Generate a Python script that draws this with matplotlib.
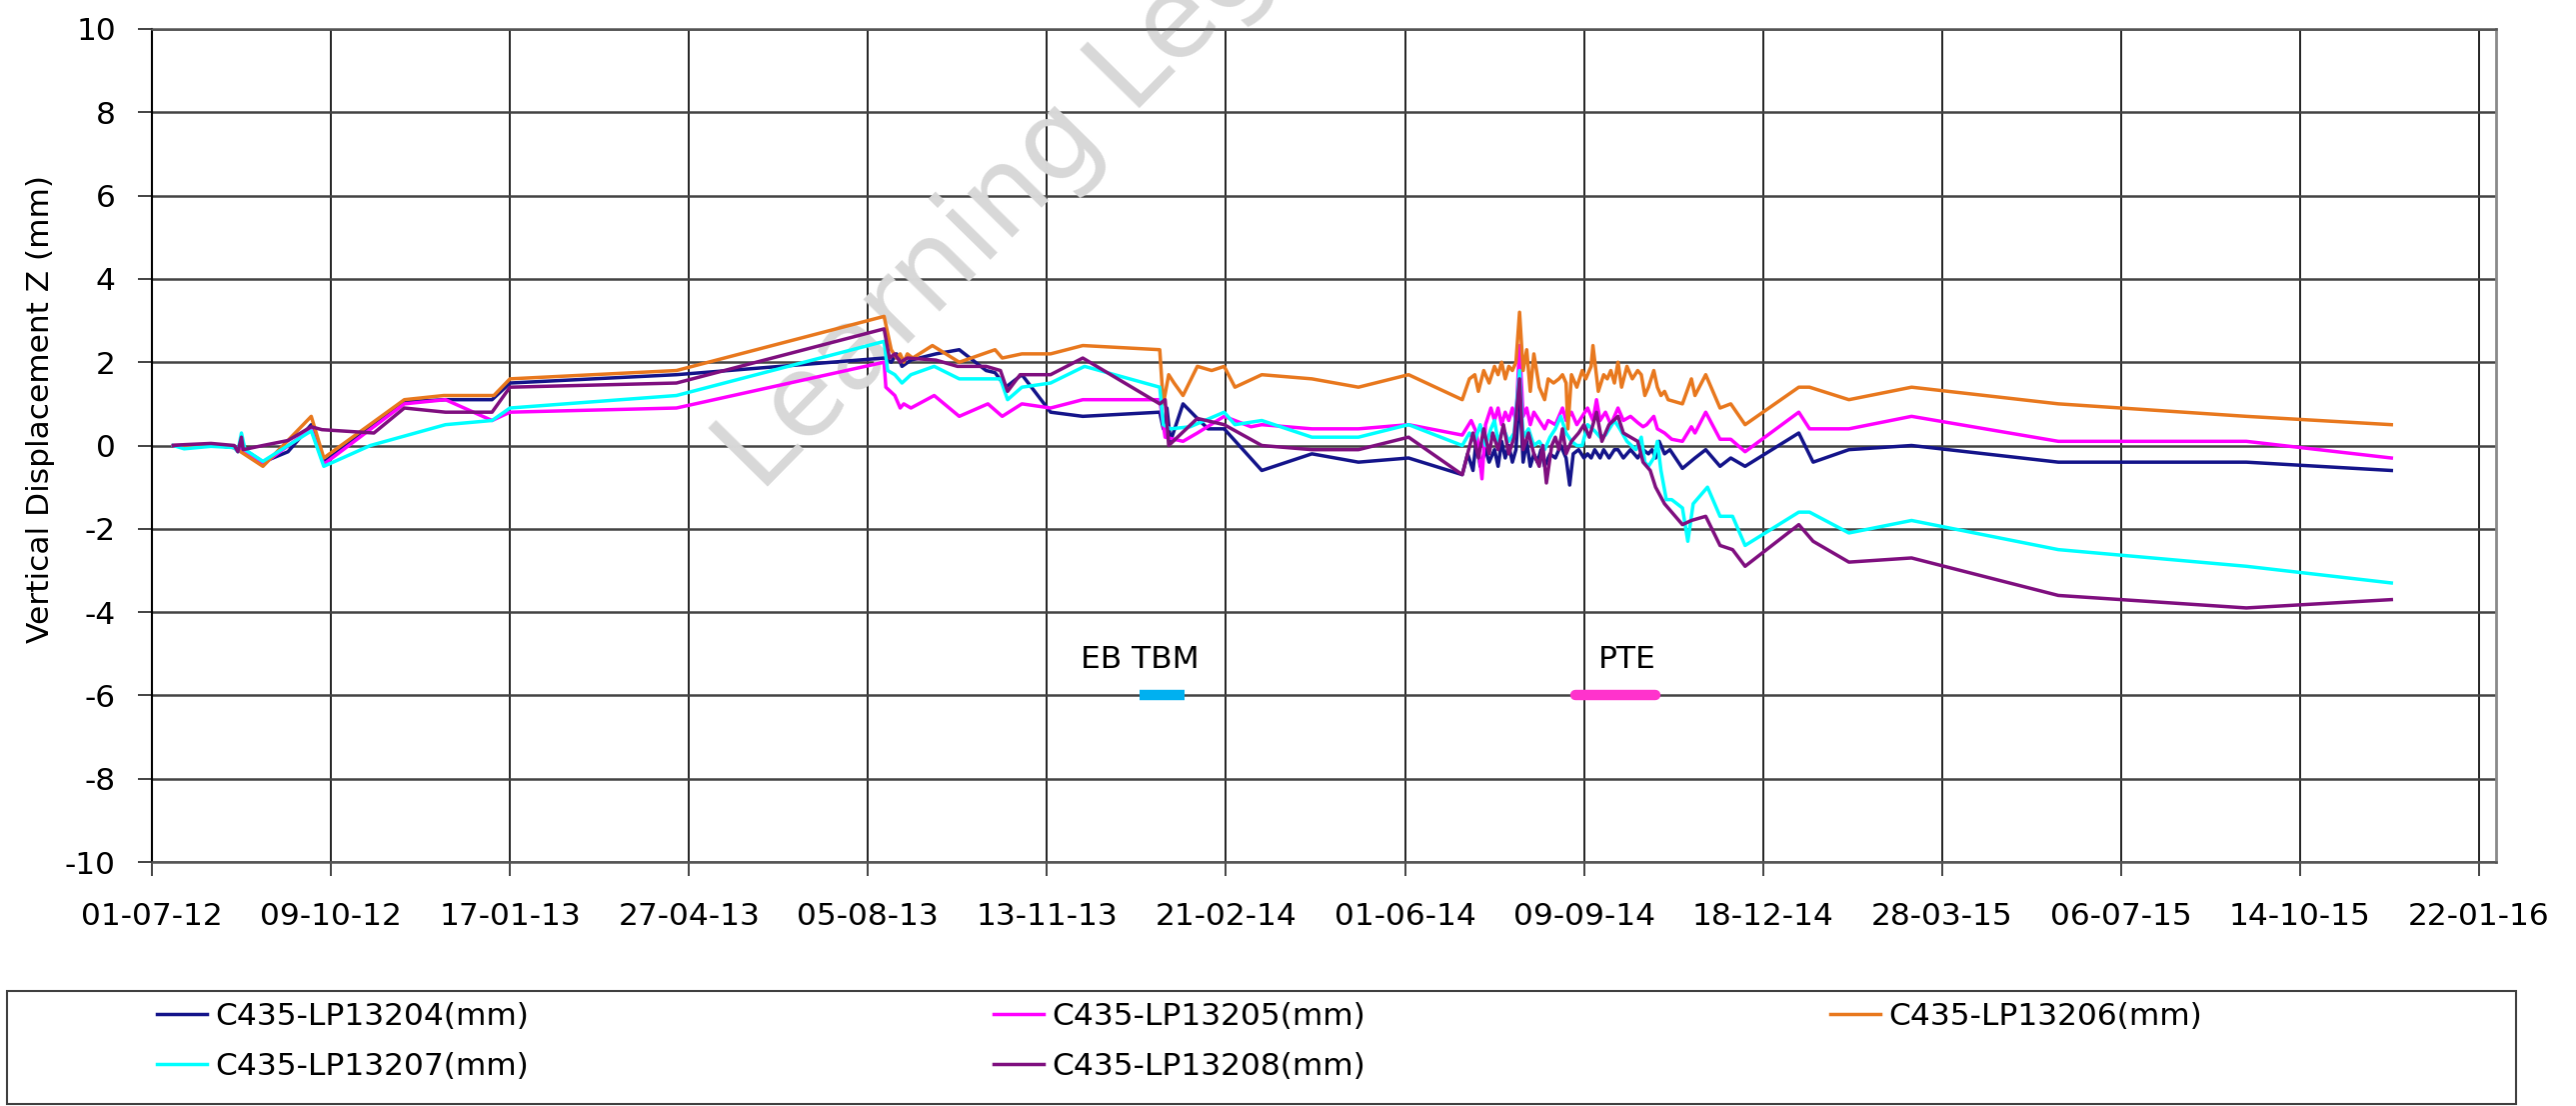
import numpy as np
import matplotlib
matplotlib.use('Agg')
import matplotlib.pyplot as plt
import matplotlib.dates as mdates
from matplotlib.patches import Rectangle

plt.rcParams['axes.unicode_minus'] = False

# survey start, all days below are counted from here
startDate = np.datetime64('2012-07-01')

lp204_days = [12, 18, 33, 46, 48, 50, 51, 62, 76, 89, 96, 141, 164, 190, 200, 293, 409, 413, 416, 419,
              424, 438, 451, 466, 471, 477, 486, 502, 520, 563, 565, 567, 569, 576, 584, 590, 599, 620, 648, 674,
              702, 732, 735, 738, 740, 742, 745, 747, 750, 752, 754, 756, 758, 760, 762, 764, 766, 768, 770, 772,
              774, 776, 778, 781, 784, 787, 790, 792, 794, 797, 800, 802, 804, 806, 809, 811, 814, 817, 819, 822,
              826, 830, 833, 836, 838, 840, 842, 845, 848, 855, 862, 868, 876, 882, 890, 920, 928, 948, 983, 1065,
              1170, 1251]
lp204_mm = [0.0, 0.0, 0.02, -0.05, -0.12, 0.15, -0.08, -0.4, -0.15, 0.5, -0.4, 1.05, 1.1, 1.1, 1.5, 1.7, 2.1, 2.0, 2.2, 1.9,
            2.05, 2.2, 2.3, 1.8, 1.75, 1.4, 1.7, 0.8, 0.7, 0.8, 0.4, 0.9, 0.1, 1.0, 0.65, 0.4, 0.4, -0.6, -0.2, -0.4,
            -0.3, -0.7, -0.2, -0.6, 0.2, -0.5, -0.1, -0.4, -0.1, -0.5, 0.1, -0.3, 0.0, -0.4, -0.1, 1.3, -0.4, 0.1, -0.5, -0.2,
            -0.4, -0.1, -0.5, -0.2, -0.3, 0.0, -0.3, -0.95, -0.2, -0.1, -0.3, -0.2, -0.3, -0.1, -0.3, -0.1, -0.3, -0.1, -0.1, -0.3,
            -0.1, -0.3, -0.1, -0.2, -0.1, -0.3, 0.1, -0.2, -0.1, -0.55, -0.3, -0.1, -0.5, -0.3, -0.5, 0.3, -0.4, -0.1, 0.0, -0.4,
            -0.4, -0.6]

lp205_days = [12, 33, 46, 51, 62, 89, 96, 141, 164, 190, 200, 293, 409, 410, 415, 418, 420, 424, 437, 451,
              467, 475, 486, 502, 520, 563, 566, 576, 584, 599, 614, 620, 648, 674, 702, 732, 737, 740, 743, 745,
              748, 750, 752, 754, 756, 758, 760, 762, 764, 766, 768, 770, 772, 775, 778, 780, 784, 788, 790, 793,
              796, 799, 802, 805, 807, 809, 812, 815, 819, 822, 826, 830, 833, 835, 839, 841, 845, 849, 855, 860,
              862, 868, 876, 882, 890, 920, 926, 948, 983, 1065, 1170, 1251]
lp205_mm = [0.0, 0.02, -0.05, -0.1, -0.45, 0.4, -0.45, 1.0, 1.1, 0.6, 0.8, 0.9, 2.0, 1.4, 1.2, 0.9, 1.0, 0.9, 1.2, 0.7,
            1.0, 0.7, 1.0, 0.9, 1.1, 1.1, 0.2, 0.1, 0.3, 0.7, 0.45, 0.5, 0.4, 0.4, 0.5, 0.25, 0.6, 0.3, -0.8, 0.5,
            0.9, 0.6, 0.9, 0.5, 0.8, 0.6, 0.9, 0.6, 2.4, 0.7, 0.9, 0.5, 0.8, 0.6, 0.4, 0.6, 0.5, 0.9, 0.6, 0.8,
            0.5, 0.7, 0.9, 0.6, 1.1, 0.6, 0.8, 0.5, 0.9, 0.6, 0.7, 0.55, 0.45, 0.5, 0.7, 0.4, 0.3, 0.15, 0.1, 0.45,
            0.3, 0.8, 0.15, 0.15, -0.15, 0.8, 0.4, 0.4, 0.7, 0.1, 0.1, -0.3]

lp206_days = [12, 18, 33, 46, 62, 89, 96, 141, 163, 191, 200, 293, 409, 413, 416, 418, 420, 422, 425, 436,
              451, 471, 475, 486, 502, 520, 563, 565, 568, 571, 576, 584, 592, 599, 605, 620, 648, 674, 702, 732,
              736, 739, 741, 744, 747, 750, 752, 754, 756, 758, 760, 762, 764, 766, 768, 770, 772, 775, 778, 780,
              783, 786, 788, 790, 791, 793, 796, 799, 801, 804, 805, 808, 811, 813, 815, 817, 819, 821, 824, 827,
              830, 832, 834, 836, 839, 841, 843, 845, 847, 855, 860, 862, 868, 876, 882, 890, 920, 926, 948, 983,
              1065, 1170, 1251]
lp206_mm = [0.0, 0.0, 0.02, -0.05, -0.5, 0.7, -0.3, 1.1, 1.2, 1.2, 1.6, 1.8, 3.1, 2.3, 2.1, 2.2, 2.0, 2.2, 2.1, 2.4,
            2.0, 2.3, 2.1, 2.2, 2.2, 2.4, 2.3, 1.0, 1.7, 1.5, 1.2, 1.9, 1.8, 1.9, 1.4, 1.7, 1.6, 1.4, 1.7, 1.1,
            1.6, 1.7, 1.3, 1.8, 1.5, 1.9, 1.7, 2.0, 1.6, 1.9, 1.8, 2.0, 3.2, 1.8, 2.3, 1.3, 2.2, 1.4, 1.1, 1.6,
            1.5, 1.6, 1.7, 1.5, 0.4, 1.7, 1.4, 1.8, 1.6, 1.9, 2.4, 1.3, 1.7, 1.6, 1.8, 1.5, 2.0, 1.4, 1.9, 1.6,
            1.8, 1.7, 1.2, 1.4, 1.8, 1.4, 1.2, 1.3, 1.1, 1.0, 1.6, 1.2, 1.7, 0.9, 1.0, 0.5, 1.4, 1.4, 1.1, 1.4,
            1.0, 0.7, 0.5]

lp207_days = [12, 18, 33, 46, 48, 50, 52, 62, 89, 96, 122, 164, 190, 200, 293, 409, 411, 415, 419, 424,
              437, 451, 474, 478, 486, 502, 521, 563, 565, 569, 580, 599, 605, 620, 648, 674, 702, 732, 736, 739,
              742, 745, 748, 750, 752, 755, 758, 761, 764, 766, 769, 772, 775, 778, 781, 784, 787, 790, 793, 796,
              799, 802, 806, 809, 812, 817, 820, 824, 829, 832, 834, 836, 839, 841, 843, 846, 849, 855, 858, 861,
              869, 876, 883, 890, 920, 926, 948, 983, 1065, 1170, 1251]
lp207_mm = [0.0, -0.08, -0.02, -0.05, -0.15, 0.3, -0.1, -0.38, 0.35, -0.5, 0.0, 0.5, 0.6, 0.9, 1.2, 2.5, 1.8, 1.7, 1.5, 1.7,
            1.9, 1.6, 1.6, 1.1, 1.4, 1.5, 1.9, 1.4, 0.5, 0.4, 0.45, 0.8, 0.5, 0.6, 0.2, 0.2, 0.5, 0.0, 0.3, 0.1,
            0.5, 0.0, 0.4, 0.6, 0.1, 0.4, 0.1, 0.3, 1.8, 0.2, 0.4, 0.0, 0.1, -0.1, 0.2, 0.4, 0.7, 0.3, 0.1, 0.0,
            0.0, 0.5, 0.35, 0.2, 0.25, 0.6, 0.4, 0.1, -0.1, 0.2, -0.4, -0.5, -0.3, 0.1, -0.6, -1.3, -1.3, -1.5, -2.3, -1.4,
            -1.0, -1.7, -1.7, -2.4, -1.6, -1.6, -2.1, -1.8, -2.5, -2.9, -3.3]

lp208_days = [12, 18, 33, 46, 48, 50, 51, 62, 76, 89, 95, 124, 141, 164, 190, 200, 293, 409, 412, 415,
              418, 422, 438, 450, 466, 474, 478, 485, 502, 520, 563, 566, 568, 584, 599, 620, 648, 674, 702, 732,
              735, 738, 741, 744, 747, 749, 752, 755, 758, 761, 764, 766, 769, 772, 775, 777, 779, 782, 784, 786,
              788, 790, 793, 797, 800, 803, 807, 810, 814, 819, 822, 826, 830, 833, 837, 840, 845, 849, 855, 860,
              868, 876, 883, 890, 920, 928, 948, 983, 1065, 1170, 1251]
lp208_mm = [0.0, 0.02, 0.05, 0.0, -0.15, 0.2, -0.1, 0.0, 0.12, 0.45, 0.38, 0.3, 0.9, 0.8, 0.8, 1.4, 1.5, 2.8, 2.1, 2.2,
            2.0, 2.1, 2.05, 1.9, 1.9, 1.8, 1.3, 1.7, 1.7, 2.1, 1.0, 1.1, 0.0, 0.65, 0.5, 0.0, -0.1, -0.1, 0.2, -0.7,
            -0.2, 0.3, -0.3, 0.4, -0.2, 0.3, -0.1, 0.5, -0.2, 0.2, 1.6, -0.1, 0.3, -0.2, -0.5, 0.0, -0.9, 0.0, 0.2, -0.1,
            0.4, -0.2, 0.1, 0.3, 0.5, 0.2, 0.8, 0.1, 0.5, 0.7, 0.3, 0.2, 0.1, -0.4, -0.6, -1.0, -1.4, -1.6, -1.9, -1.8,
            -1.7, -2.4, -2.5, -2.9, -1.9, -2.3, -2.8, -2.7, -3.6, -3.9, -3.7]

seriesNames = ['C435-LP13204(mm)', 'C435-LP13205(mm)', 'C435-LP13206(mm)', 'C435-LP13207(mm)', 'C435-LP13208(mm)']
seriesColors = ['#14148a', '#ff00ff', '#e8781e', '#00ffff', '#7f0f7f']

# construction activity markers (start day, end day) at -6 mm
eventNames = ['EB TBM', 'PTE']
eventDays = [(552, 577), (795, 840)]
eventColors = ['#00b0f0', '#ff33cc']

tickDays = np.arange(0, 1301, 100)


def toDates(days):
    return startDate + np.array(days).astype('timedelta64[D]')


fontSize = 22.5
lineWidth = 2.5

fig = plt.figure(figsize=(25.77, 11.06), dpi=100)
ax = fig.add_axes([0.05898, 0.22061, 0.90998, 0.75317])

allDays = [lp204_days, lp205_days, lp206_days, lp207_days, lp208_days]
allValues = [lp204_mm, lp205_mm, lp206_mm, lp207_mm, lp208_mm]
lines = []
for days, values, name, color in zip(allDays, allValues, seriesNames, seriesColors):
    l, = ax.plot(toDates(days), values, color=color, linewidth=lineWidth, label=name, zorder=3)
    lines.append(l)

for name, (d0, d1), color in zip(eventNames, eventDays, eventColors):
    ax.plot(toDates([d0, d1]), [-6, -6], color=color, linewidth=7.5,
            solid_capstyle='round' if name == 'PTE' else 'butt', zorder=4)
    mid = d0 if name == 'EB TBM' else (d0 + d1) / 2 + 7
    ax.text(toDates([mid])[0], -5.13, name, fontsize=fontSize, ha='center', va='center', zorder=4)

# watermark
ax.text(0.2953, 0.5533, 'Learning Legacy', transform=fig.transFigure, fontsize=82,
        color='#d8d8d8', rotation=45.5, rotation_mode='anchor', ha='left', va='baseline',
        clip_on=False, zorder=1.8)

x0 = mdates.date2num(startDate)
ax.set_xlim(x0, x0 + 1309.5)
ax.set_ylim(-10, 10)
ax.set_xticks(mdates.date2num(toDates(tickDays)))
ax.xaxis.set_major_formatter(mdates.DateFormatter('%d-%m-%y'))
ax.set_yticks(np.arange(-10, 11, 2))

ax.grid(axis='y', color='#444444', linewidth=1.8)
ax.grid(axis='x', color='#111111', linewidth=1.3)
ax.tick_params(axis='both', labelsize=fontSize, length=10, width=1.2, color='#222222')
ax.tick_params(axis='y', pad=16)
ax.tick_params(axis='x', pad=19)

ax.spines['left'].set_color('black')
ax.spines['left'].set_linewidth(1.5)
ax.spines['bottom'].set_color('#555555')
ax.spines['bottom'].set_linewidth(1.8)
ax.spines['top'].set_color('#555555')
ax.spines['top'].set_linewidth(1.8)
ax.spines['right'].set_color('#8a8a8a')
ax.spines['right'].set_linewidth(2.0)

ax.set_ylabel('Vertical Displacement Z (mm)', fontsize=fontSize)
ax.yaxis.set_label_coords(-0.0414, 0.544)

# legend box below the plot, entries laid out row by row
fig.patches.append(Rectangle((0.0027, 0.0018), 0.974, 0.102, transform=fig.transFigure,
                             fill=False, edgecolor='#404040', linewidth=1.5))
order = [0, 3, 1, 4, 2]
fig.legend([lines[i] for i in order], [seriesNames[i] for i in order], ncol=3, frameon=False,
           loc='upper left', bbox_to_anchor=(0.0609, 0.094), fontsize=fontSize,
           handlelength=1.6, handletextpad=0.25, columnspacing=14.9, labelspacing=0.66,
           borderpad=0, borderaxespad=0)

plt.savefig('out.png', dpi=100)
